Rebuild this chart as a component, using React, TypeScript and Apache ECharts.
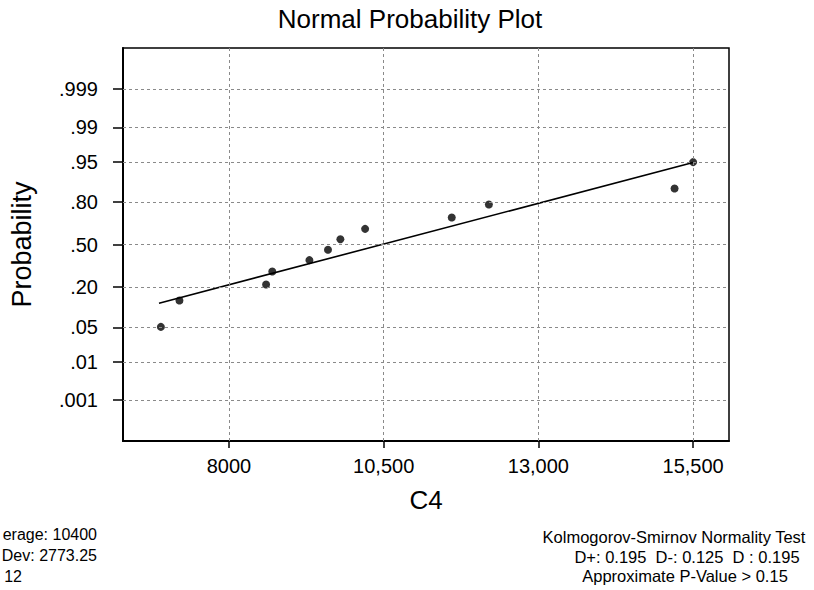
import React, { useEffect, useRef } from "react";
import * as echarts from "echarts";

// ---- data ----
const c4Values = [6900, 7200, 8600, 8700, 9300, 9600, 9800, 10200, 11600, 12200, 15200, 15500];
const probabilities = [0.051, 0.133, 0.214, 0.296, 0.378, 0.459, 0.541, 0.622, 0.704, 0.786, 0.867, 0.949];
const fitLineX = [6870, 15500];
const fitLineP = [0.122, 0.948];
const xTickValues = [8000, 10500, 13000, 15500];
const xTickLabels = ["8000", "10,500", "13,000", "15,500"];
const yTickProbabilities = [0.001, 0.01, 0.05, 0.2, 0.5, 0.8, 0.95, 0.99, 0.999];
const yTickLabels = [".001", ".01", ".05", ".20", ".50", ".80", ".95", ".99", ".999"];
// the reference shows these lines cut off at the left edge of the picture
const statsLeft = ["erage: 10400", "Dev: 2773.25", "12"];
const statsRight = [
  "Kolmogorov-Smirnov Normality Test",
  "D+: 0.195\u00a0\u00a0D-: 0.125\u00a0\u00a0D : 0.195",
  "Approximate P-Value > 0.15",
];

// inverse standard normal CDF (Acklam) — maps probability to the probability-scale axis
function normInv(p: number): number {
  const a = [-3.969683028665376e1, 2.209460984245205e2, -2.759285104469687e2, 1.38357751867269e2, -3.066479806614716e1, 2.506628277459239];
  const b = [-5.447609879822406e1, 1.615858368580409e2, -1.556989798598866e2, 6.680131188771972e1, -1.328068155288572e1];
  const c = [-7.784894002430293e-3, -3.223964580411365e-1, -2.400758277161838, -2.549732539343734, 4.374664141464968, 2.938163982698783];
  const d = [7.784695709041462e-3, 3.224671290700398e-1, 2.445134137142996, 3.754408661907416];
  const pl = 0.02425;
  if (p < pl) {
    const q = Math.sqrt(-2 * Math.log(p));
    return (((((c[0] * q + c[1]) * q + c[2]) * q + c[3]) * q + c[4]) * q + c[5]) / ((((d[0] * q + d[1]) * q + d[2]) * q + d[3]) * q + 1);
  }
  if (p > 1 - pl) {
    const q = Math.sqrt(-2 * Math.log(1 - p));
    return -(((((c[0] * q + c[1]) * q + c[2]) * q + c[3]) * q + c[4]) * q + c[5]) / ((((d[0] * q + d[1]) * q + d[2]) * q + d[3]) * q + 1);
  }
  const q = p - 0.5;
  const r = q * q;
  return ((((((a[0] * r + a[1]) * r + a[2]) * r + a[3]) * r + a[4]) * r + a[5]) * q) / (((((b[0] * r + b[1]) * r + b[2]) * r + b[3]) * r + b[4]) * r + 1);
}

const FONT = "'Liberation Sans', Arial, sans-serif";

export default function App() {
  const ref = useRef<HTMLDivElement>(null);
  useEffect(() => {
    if (!ref.current) return;
    const chart = echarts.init(ref.current, undefined, { renderer: "svg" });
    const yTickZ = yTickProbabilities.map(normInv);
    const gridStyle = { color: "#8a8a8a", width: 1, type: [3, 3] as number[] };

    const option: any = {
      animation: false,
      backgroundColor: "#fff",
      grid: { left: 117, right: 85, top: 48, bottom: 149, show: true, borderColor: "#000", borderWidth: 1.5, backgroundColor: "transparent" },
      xAxis: {
        type: "value",
        min: 6288,
        max: 16080,
        axisLine: { show: true, onZero: false, lineStyle: { color: "#000", width: 2 } },
        axisTick: { show: true, customValues: xTickValues, length: 7, lineStyle: { color: "#000", width: 1.5 } },
        axisLabel: {
          customValues: xTickValues,
          formatter: (v: number) => {
            const i = xTickValues.findIndex((t) => Math.abs(t - v) < 1);
            return i >= 0 ? xTickLabels[i] : "";
          },
          fontSize: 20,
          color: "#000",
          fontFamily: FONT,
          margin: 15,
        },
        splitLine: { show: false },
        name: "C4",
        nameLocation: "middle",
        nameGap: 46,
        nameTextStyle: { fontSize: 26, color: "#000", fontFamily: FONT },
      },
      yAxis: {
        type: "value",
        min: -3.9,
        max: 3.9,
        axisLine: { show: true, onZero: false, lineStyle: { color: "#000", width: 2 } },
        axisTick: { show: true, customValues: yTickZ, length: 10, lineStyle: { color: "#000", width: 1.5 } },
        axisLabel: {
          customValues: yTickZ,
          formatter: (v: number) => {
            let best = 0;
            yTickZ.forEach((z, i) => {
              if (Math.abs(z - v) < Math.abs(yTickZ[best] - v)) best = i;
            });
            return yTickLabels[best];
          },
          fontSize: 20,
          color: "#000",
          fontFamily: FONT,
          margin: 25,
        },
        splitLine: { show: false },
        name: "Probability",
        nameLocation: "middle",
        nameRotate: 90,
        nameGap: 88,
        nameTextStyle: { fontSize: 27, color: "#000", fontFamily: FONT },
      },
      series: [
        {
          type: "line",
          data: [],
          silent: true,
          markLine: {
            silent: true,
            symbol: ["none", "none"],
            label: { show: false },
            lineStyle: gridStyle,
            data: [
              ...xTickValues.map((v) => ({ xAxis: v })),
              ...yTickZ.map((z) => ({ yAxis: z })),
            ],
          },
        },
        {
          type: "line",
          data: fitLineX.map((x, i) => [x, normInv(fitLineP[i])]),
          symbol: "none",
          lineStyle: { color: "#000", width: 1.6 },
          z: 3,
        },
        {
          type: "scatter",
          data: c4Values.map((x, i) => [x, normInv(probabilities[i])]),
          symbol: "circle",
          symbolSize: 8,
          itemStyle: { color: "#000" },
          z: 4,
        },
      ],
      graphic: [
        {
          type: "text",
          x: 410,
          y: 19,
          style: { text: "Normal Probability Plot", font: `26px ${FONT}`, fill: "#000", textAlign: "center", textVerticalAlign: "middle" },
        },
        ...statsLeft.map((t, i) => ({
          type: "text",
          x: i === 2 ? 22 : 97,
          y: 534 + i * 21,
          style: { text: t, font: `16px ${FONT}`, fill: "#000", textAlign: "right", textVerticalAlign: "middle" },
        })),
        ...statsRight.map((t, i) => ({
          type: "text",
          x: [674, 687, 685][i],
          y: 537 + i * 19.5,
          style: { text: t, font: `16.5px ${FONT}`, fill: "#000", textAlign: "center", textVerticalAlign: "middle" },
        })),
      ],
    };
    chart.setOption(option);
    return () => chart.dispose();
  }, []);
  return <div ref={ref} style={{ position: "fixed", left: 0, top: 0, width: 814, height: 590, background: "#fff" }} />;
}
